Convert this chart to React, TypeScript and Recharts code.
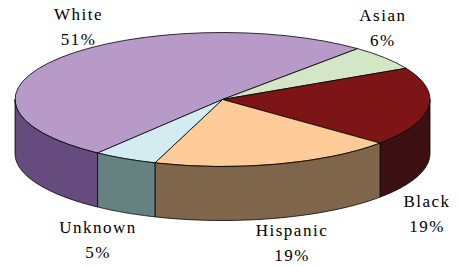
import React from 'react';
import { PieChart, Pie, Cell } from 'recharts';

const categories = ['White', 'Asian', 'Black', 'Hispanic', 'Unknown'];
const shares = [51, 6, 19, 19, 5];
const topColors = ['#B89AC8', '#D3E6C5', '#7D1416', '#FFCB99', '#D3ECF2'];
const wallColors = ['#654B7E', '#6A7362', '#3C1012', '#7F6549', '#668280'];

const data = categories.map((name, i) => ({ name, value: shares[i] }));

const W = 460;
const H = 266;
const CX = 222.5;
const CY = 99.5;
const R = 207.5;
const TILT = 67 / 207.5;
const DEPTH = 54;
const RAD = Math.PI / 180;
const FONT = "'Liberation Serif', 'Times New Roman', serif";

const pt = (cx: number, cy: number, r: number, ang: number, dz: number) =>
  `${(cx + r * Math.cos(ang * RAD)).toFixed(2)},${(cy - r * TILT * Math.sin(ang * RAD) + dz).toFixed(2)}`;

const renderWall = (p: any) => {
  const { cx, cy, outerRadius, startAngle, endAngle, index } = p;
  const hi = Math.max(startAngle, endAngle);
  const lo = Math.min(startAngle, endAngle);
  const pieces: [number, number][] = [];
  for (let k = -2; k <= 2; k++) {
    const a = Math.max(lo, -180 + 360 * k);
    const b = Math.min(hi, 360 * k);
    if (b > a) pieces.push([a, b]);
  }
  return (
    <g key={`wall-${index}`}>
      {pieces.map(([a, b], j) => {
        const pts: string[] = [];
        const n = 60;
        for (let s = 0; s <= n; s++) pts.push(pt(cx, cy, outerRadius, a + ((b - a) * s) / n, 0));
        for (let s = n; s >= 0; s--) pts.push(pt(cx, cy, outerRadius, a + ((b - a) * s) / n, DEPTH));
        return (
          <path
            key={j}
            d={`M${pts.join('L')}Z`}
            fill={wallColors[index]}
            stroke="#000"
            strokeWidth={0.8}
            strokeLinejoin="round"
          />
        );
      })}
    </g>
  );
};

const renderLabel = (p: any) => {
  const { cx, cy, midAngle, name, value, index } = p;
  const c = Math.cos(midAngle * RAD);
  const s = Math.sin(midAngle * RAD);
  let x: number;
  let y: number;
  if (s >= 0) {
    x = cx + 195 * c + 8;
    y = cy - 116 * s;
  } else {
    x = cx + 265 * c;
    x = Math.min(Math.max(x, 33), W - 33);
    y = cy + 110 + 34 * Math.abs(s);
  }
  return (
    <text
      key={`lbl-${index}`}
      x={x}
      y={y}
      textAnchor="middle"
      fill="#000"
      stroke="none"
      style={{ fontFamily: FONT, fontSize: 17, letterSpacing: 1.5 }}
    >
      <tspan x={x} y={y - 6.5}>{name}</tspan>
      <tspan x={x} y={y + 18.5}>{`${value}%`}</tspan>
    </text>
  );
};

const css = `
.top3d path.recharts-sector {
  transform-origin: ${CX}px ${CY}px;
  transform: scaleY(${TILT});
  vector-effect: non-scaling-stroke;
}
`;

export default function App() {
  return (
    <div style={{ position: 'absolute', left: 0, top: 0, width: W, height: H, background: '#fff' }}>
      <style>{css}</style>
      <PieChart width={W} height={H} margin={{ top: 0, right: 0, bottom: 0, left: 0 }}>
        <Pie
          data={data}
          dataKey="value"
          nameKey="name"
          cx={CX}
          cy={CY}
          outerRadius={R}
          startAngle={233}
          endAngle={-127}
          fill="none"
          stroke="none"
          label={renderWall}
          labelLine={false}
          isAnimationActive={false}
        />
        <Pie
          className="top3d"
          data={data}
          dataKey="value"
          nameKey="name"
          cx={CX}
          cy={CY}
          outerRadius={R}
          startAngle={233}
          endAngle={-127}
          stroke="#000"
          strokeWidth={0.8}
          label={renderLabel}
          labelLine={false}
          isAnimationActive={false}
        >
          {data.map((d, i) => (
            <Cell key={d.name} fill={topColors[i]} />
          ))}
        </Pie>
      </PieChart>
    </div>
  );
}
